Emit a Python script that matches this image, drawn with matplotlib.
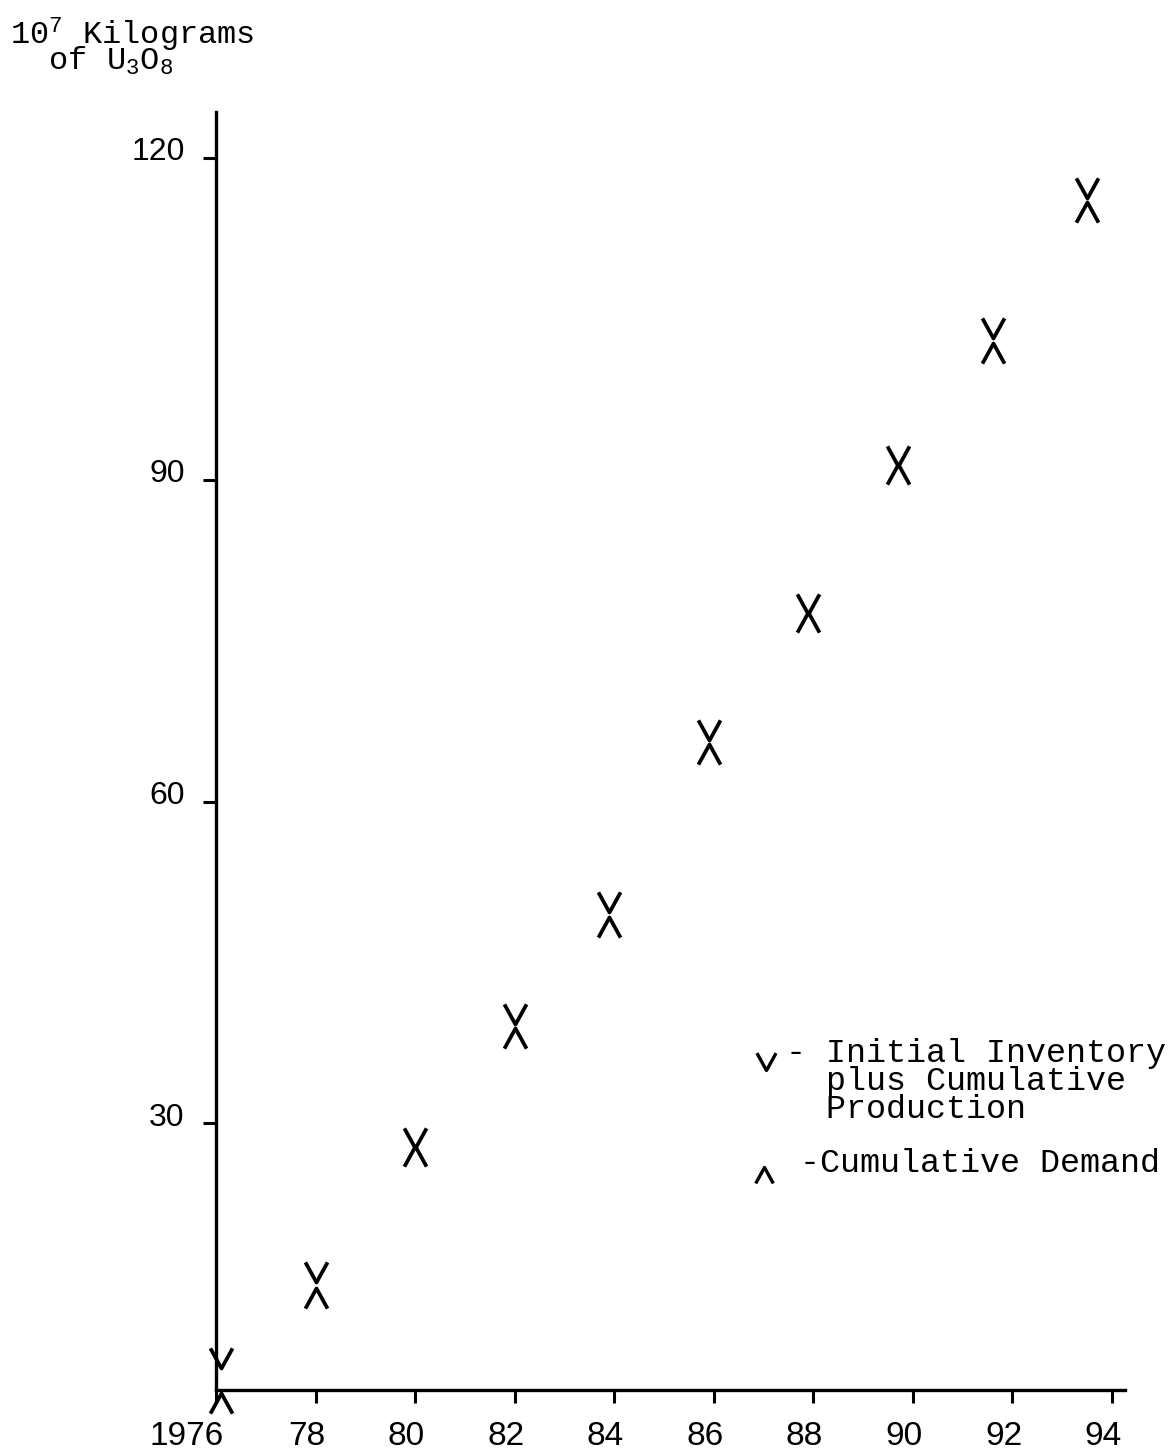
import matplotlib
matplotlib.use("Agg")
import matplotlib.pyplot as plt
from matplotlib.path import Path
from matplotlib.transforms import ScaledTranslation

# years as the marks sit on the page (the later hand-plotted marks drift left of the ticks)
years = [1976.1, 1978.0, 1980.0, 1982.0, 1983.9, 1985.9, 1987.9, 1989.7, 1991.6, 1993.5]
# 10^7 kilograms of U3O8
inventory = [7.2, 15.2, 27.7, 39.3, 49.7, 65.7, 77.5, 91.3, 103.2, 116.3]   # initial inventory + cumulative production
demand = [4.9, 14.7, 27.9, 38.9, 49.2, 65.4, 77.7, 91.5, 102.7, 115.9]      # cumulative demand

xticks = [1976, 1978, 1980, 1982, 1984, 1986, 1988, 1990, 1992, 1994]
xlabels = ["1976", "78", "80", "82", "84", "86", "88", "90", "92", "94"]
yticks = [30, 60, 90, 120]
ylabels = ["30", "60", "90", "120"]

W, H = 1174, 1453
plt.rcParams['font.family'] = ['Liberation Sans', 'DejaVu Sans']
plt.rcParams['mathtext.default'] = 'regular'
mono = 'Liberation Mono'

fig = plt.figure(figsize=(W / 100, H / 100), dpi=100)
ax = fig.add_axes([216 / W, (H - 1390) / H, 909 / W, 1278 / H])

# "v" marker has its point at the value, "^" likewise
vee = Path([(-0.55, 1), (0, 0), (0.55, 1)], [Path.MOVETO, Path.LINETO, Path.LINETO])
hat = Path([(-0.55, -1), (0, 0), (0.55, -1)], [Path.MOVETO, Path.LINETO, Path.LINETO])

ax.plot(years, inventory, linestyle='none', marker=vee, ms=29, mfc='none',
        mec='black', mew=2.7, clip_on=False)
ax.plot(years, demand, linestyle='none', marker=hat, ms=29, mfc='none',
        mec='black', mew=2.7, clip_on=False)

ax.set_xlim(1976.08, 1994.26)
ax.set_ylim(5.15, 124.27)

for s in ['top', 'right']:
    ax.spines[s].set_visible(False)
for s in ['left', 'bottom']:
    ax.spines[s].set_linewidth(2.4)

ax.set_xticks(xticks)
ax.set_xticklabels(xlabels)
ax.set_yticks(yticks)
ax.set_yticklabels(ylabels)
ax.tick_params(axis='y', direction='out', length=9.5, width=2.2, pad=13, labelsize=23)
ax.tick_params(axis='x', direction='out', length=9.5, width=2.2, pad=13, labelsize=24)

for i, lab in enumerate(ax.get_xticklabels()):
    if i == 0:
        lab.set_ha('right')
        lab.set_transform(lab.get_transform() + ScaledTranslation(0.08, 0, fig.dpi_scale_trans))
    else:
        lab.set_transform(lab.get_transform() + ScaledTranslation(-0.09, 0, fig.dpi_scale_trans))
for lab in ax.get_yticklabels():
    lab.set_transform(lab.get_transform() + ScaledTranslation(0, 0.09, fig.dpi_scale_trans))


def fx(px):
    return px / W


def fy(py):
    return 1 - py / H


# axis title, typed on the original (y is the baseline of the last line)
fig.text(fx(10), fy(70), "10$^7$ Kilograms\n  of U$_3$O$_8$", family=mono,
         fontsize=23, va='baseline', linespacing=0.65)

# key
ax.plot([fx(766)], [fy(1070)], transform=fig.transFigure, marker=vee, ms=25,
        mfc='none', mec='black', mew=2.4, clip_on=False)
fig.text(fx(786), fy(1118), "- Initial Inventory\n  plus Cumulative\n  Production",
         family=mono, fontsize=24, va='baseline', linespacing=0.88)
ax.plot([fx(764)], [fy(1167)], transform=fig.transFigure, marker=hat, ms=23,
        mfc='none', mec='black', mew=2.4, clip_on=False)
fig.text(fx(800), fy(1172), "-Cumulative Demand", family=mono, fontsize=24, va='baseline')

fig.savefig("out.png", dpi=100)
